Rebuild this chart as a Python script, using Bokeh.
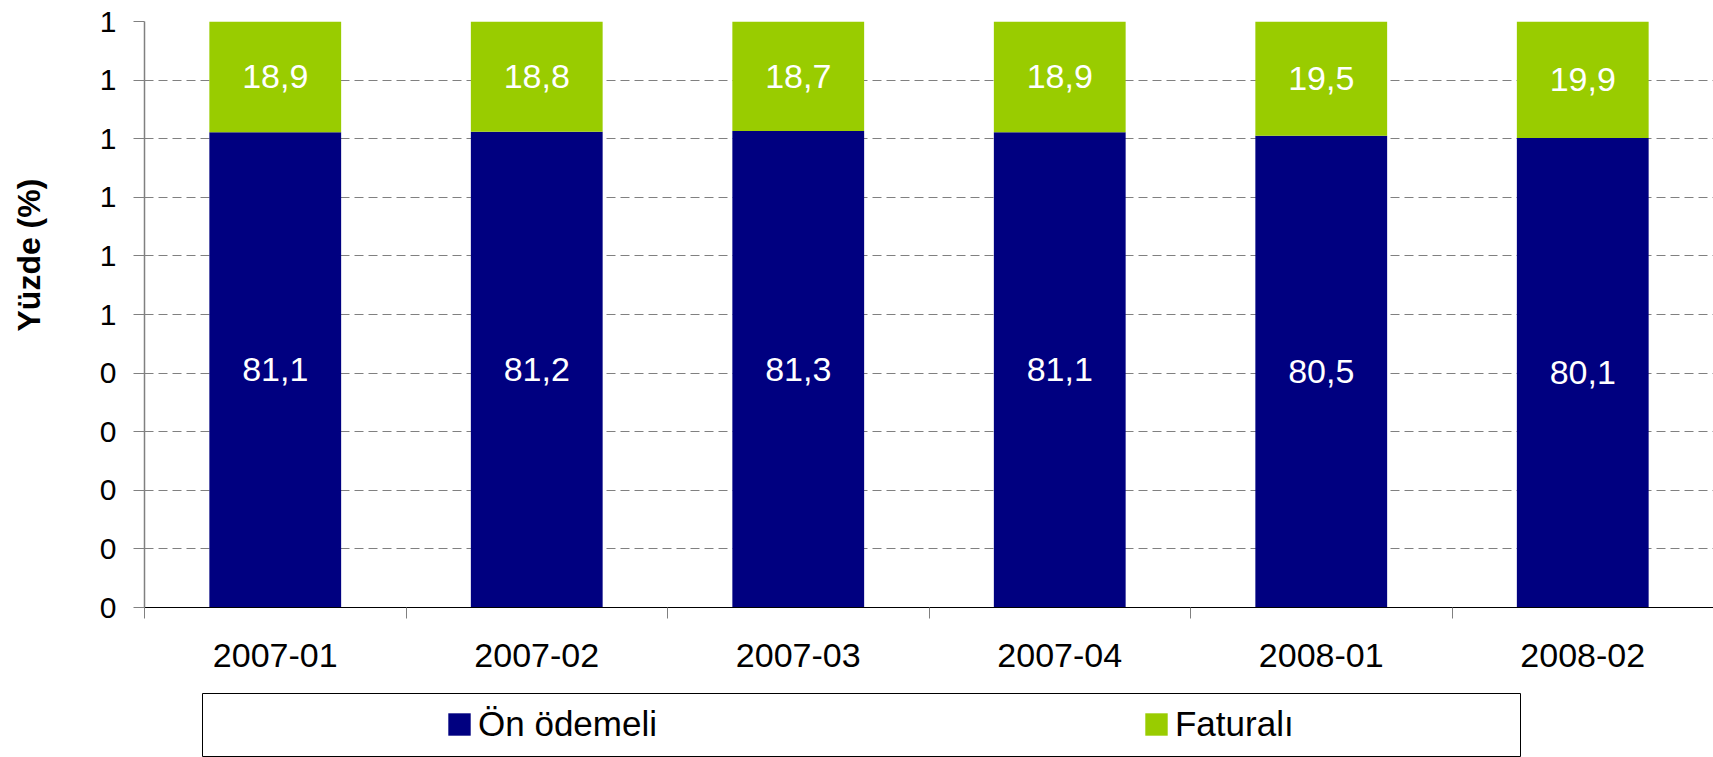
from bokeh.plotting import figure
from bokeh.models import (ColumnDataSource, Range1d, FixedTicker, LabelSet, Title,
                          Legend, LegendItem, Grid, PrintfTickFormatter, LinearAxis)
from bokeh.core.properties import value
from bokeh.embed import file_html
from bokeh.resources import INLINE

categories = ["2007-01", "2007-02", "2007-03", "2007-04", "2008-01", "2008-02"]
on_odemeli = [81.1, 81.2, 81.3, 81.1, 80.5, 80.1]
faturali = [18.9, 18.8, 18.7, 18.9, 19.5, 19.9]
series_names = ["Ön ödemeli", "Faturalı"]
y_ticks = [0.0, 0.1, 0.2, 0.3, 0.4, 0.5, 0.6, 0.7, 0.8, 0.9, 1.0]
y_title = "Yüzde (%)"

colors = ["#000080", "#99CC00"]
FONT = "Liberation Sans"

n = len(categories)
xs = [i + 0.5 for i in range(n)]
on_frac = [v / 100 for v in on_odemeli]
fat_frac = [v / 100 for v in faturali]


def fmt(v):
    return ("%.1f" % v).replace(".", ",")


src = ColumnDataSource(dict(
    x=xs,
    on=on_frac,
    fat=fat_frac,
    on_mid=[v / 2 for v in on_frac],
    fat_mid=[a + b / 2 for a, b in zip(on_frac, fat_frac)],
    on_txt=[fmt(v) for v in on_odemeli],
    fat_txt=[fmt(v) for v in faturali],
))

W = 1713
p = figure(width=W, height=693, x_range=Range1d(0, n), y_range=Range1d(0, 1),
           output_backend="svg", toolbar_location=None,
           min_border_left=143, min_border_right=0, min_border_top=21, min_border_bottom=86)
p.outline_line_color = None
p.background_fill_color = "white"

renderers = p.vbar_stack(["on", "fat"], x="x", width=0.504, fill_color=colors,
                         line_color=None, source=src)

# grid
p.xgrid.visible = False
p.ygrid.ticker = FixedTicker(ticks=y_ticks[1:])
p.ygrid.grid_line_color = "#808080"
p.ygrid.grid_line_dash = "9 5"
p.ygrid.grid_line_width = 1
p.add_layout(Grid(dimension=1, ticker=FixedTicker(ticks=[y_ticks[-1]]),
                  grid_line_color="black", grid_line_dash="9 5", grid_line_width=1))

# y axis
ya = p.yaxis[0]
ya.ticker = FixedTicker(ticks=y_ticks)
ya.formatter = PrintfTickFormatter(format="%.0f")
ya.axis_line_color = "#808080"
ya.axis_line_width = 1.5
ya.major_tick_line_color = "#808080"
ya.major_tick_out = 11
ya.major_tick_in = 0
ya.minor_tick_line_color = None
ya.major_label_standoff = 17
ya.major_label_text_font = FONT
ya.major_label_text_font_size = "30px"
ya.major_label_text_color = "black"

# invisible spacer between the tick labels and the axis title
mid_tick = y_ticks[len(y_ticks) // 2]
spacer = LinearAxis(ticker=FixedTicker(ticks=[mid_tick]), major_tick_out=42, major_tick_in=0,
                    major_label_standoff=0, major_label_overrides={mid_tick: ""},
                    axis_line_color=None, major_tick_line_color=None,
                    minor_tick_line_color=None)
p.add_layout(spacer, "left")

# y axis title (placed higher than centre, like the reference)
title = Title(text=y_title, align="left", offset=276,
              text_font=FONT, text_font_size="32px", text_font_style="bold",
              text_color="black")
if "standoff" in Title.properties():
    title.standoff = 16
p.add_layout(title, "left")

# x axis
xa = p.xaxis[0]
xa.ticker = FixedTicker(ticks=xs, minor_ticks=list(range(n + 1)))
xa.major_label_overrides = {x: c for x, c in zip(xs, categories)}
xa.major_tick_line_color = None
xa.major_tick_out = 0
xa.major_tick_in = 0
xa.minor_tick_line_color = "#808080"
xa.minor_tick_out = 11
xa.minor_tick_in = 0
xa.axis_line_color = "black"
xa.axis_line_width = 1
xa.major_label_standoff = 25
xa.major_label_text_font = FONT
xa.major_label_text_font_size = "34px"
xa.major_label_text_color = "black"

# value labels
for ycol, tcol in (("on_mid", "on_txt"), ("fat_mid", "fat_txt")):
    p.add_layout(LabelSet(x="x", y=ycol, text=tcol, source=src,
                          text_color="white", text_font_size="34px",
                          text_font=value(FONT), text_align="center",
                          text_baseline="middle"))

# legend panel (its frame outline is the legend box)
p2 = figure(width=W, height=64, x_range=Range1d(0, 1), y_range=Range1d(0, 1),
            output_backend="svg", toolbar_location=None,
            x_axis_type=None, y_axis_type=None,
            min_border_left=202, min_border_right=193, min_border_top=0, min_border_bottom=0)
p2.outline_line_color = "black"
p2.outline_line_width = 1
p2.grid.visible = False
nan = float("nan")
leg_renderers = [p2.vbar(x=[nan], top=[nan], width=0.5, fill_color=c, line_color=None)
                 for c in colors]
legend = Legend(items=[LegendItem(label=series_names[i], renderers=[leg_renderers[i]])
                       for i in range(len(series_names))],
                location=(243, 13), orientation="horizontal",
                glyph_width=28, glyph_height=28, label_standoff=5, spacing=485,
                padding=0, margin=0, border_line_color=None,
                background_fill_alpha=0, label_text_font=FONT,
                label_text_font_size="35px", label_height=38,
                label_text_color="black")
p2.add_layout(legend)

open("out.html", "w").write(file_html([p, p2], INLINE))
